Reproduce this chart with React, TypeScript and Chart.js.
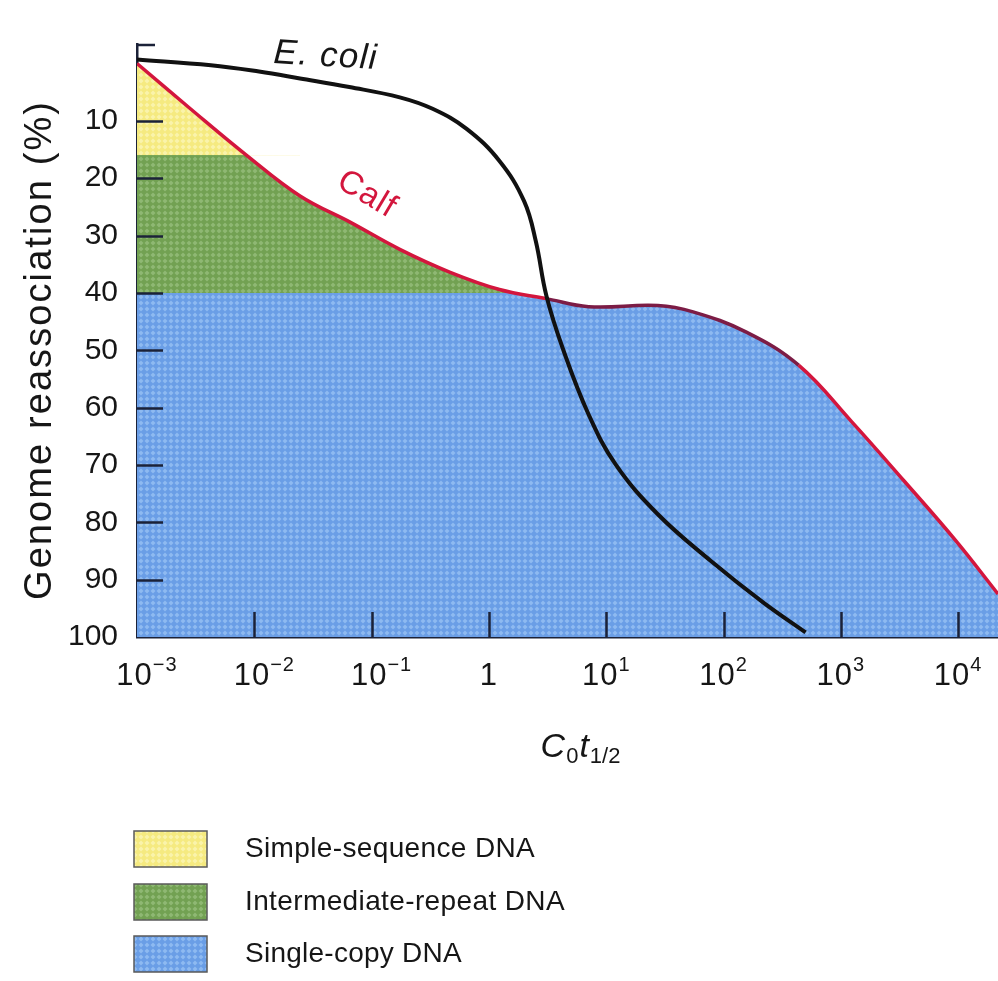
import React, { useEffect, useRef } from 'react';
import { Chart, registerables } from 'chart.js';

Chart.register(...registerables);

// ---------- data ----------
// x values are log10(C0t1/2), y values are genome reassociation (%)
const ecoliLogC0t = [-3, -2.37, -1.96, -1.61, -1.19, -0.76, -0.48, -0.19, 0.09, 0.3, 0.4, 0.49, 0.63, 0.85, 1.08, 1.44, 1.89, 2.34, 2.7];
const ecoliReassoc = [-0.7, 0.3, 1.4, 2.6, 4.1, 5.9, 7.9, 11.4, 17.0, 24.0, 31.0, 40.5, 49.7, 61.2, 69.9, 78.6, 86.7, 94.0, 99.2];

const calfLogC0t = [-3, -2.55, -2.06, -1.61, -1.18, -0.76, -0.33, 0.09, 0.49, 0.85, 1.44, 1.74, 2.19, 2.64, 3.09, 3.54, 3.98, 4.34];
const calfReassoc = [0, 7.8, 16.1, 23.1, 27.7, 32.4, 36.4, 39.4, 41.0, 42.4, 42.2, 43.3, 46.8, 52.6, 62.4, 72.8, 83.2, 92.5];

const simpleBoundary = 16;
const repeatBoundary = 40;
const simpleBoundaryEndLog = -2.07;
const repeatBoundaryEndLog = 0.24;

const yTickValues = [10, 20, 30, 40, 50, 60, 70, 80, 90, 100];
const xTickValues = [1e-3, 1e-2, 1e-1, 1, 1e1, 1e2, 1e3, 1e4];
const xTickBases = ['10', '10', '10', '1', '10', '10', '10', '10'];
const xTickExponents = ['\u22123', '\u22122', '\u22121', '', '1', '2', '3', '4'];

const yAxisTitle = 'Genome reassociation (%)';
const xTitleParts = ['C', '0', 't', '1/2'];
const ecoliLabel = 'E. coli';
const calfLabel = 'Calf';
const legendLabels = ['Simple-sequence DNA', 'Intermediate-repeat DNA', 'Single-copy DNA'];

// ---------- styles ----------
const FONT = "'Liberation Sans', Arial, Helvetica, sans-serif";
const AXIS_COLOR = '#1b2238';
const TEXT_COLOR = '#161616';
const RED = '#d3163d';
const MAROON = '#7c1c45';
const TENSION = 0.4;

function makePattern(base: string, light: string) {
  const c = document.createElement('canvas');
  c.width = 6;
  c.height = 6;
  const g = c.getContext('2d')!;
  g.fillStyle = base;
  g.fillRect(0, 0, 6, 6);
  g.fillStyle = light;
  g.beginPath();
  g.moveTo(3, 0.5);
  g.lineTo(5.5, 3);
  g.lineTo(3, 5.5);
  g.lineTo(0.5, 3);
  g.closePath();
  g.fill();
  return g.createPattern(c, 'repeat')!;
}

const toPoints = (logs: number[], vals: number[]) => logs.map((l, i) => ({ x: Math.pow(10, l), y: vals[i] }));

function setFit(ctx: any, text: string, font: string, width: number) {
  ctx.font = font;
  ctx.letterSpacing = '0px';
  const w = ctx.measureText(text).width;
  const sp = (width - w) / Math.max(1, text.length);
  ctx.letterSpacing = sp.toFixed(2) + 'px';
}

export default function App() {
  const ref = useRef<HTMLCanvasElement>(null);

  useEffect(() => {
    document.body.style.margin = '0';
    const canvas = ref.current!;
    const yellow = makePattern('#f5ea80', '#faf3ab');
    const green = makePattern('#72a152', '#8fb873');
    const blue = makePattern('#6a9ee6', '#8ebaf1');

    const calfPts = toPoints(calfLogC0t, calfReassoc);
    const ecoliPts = toPoints(ecoliLogC0t, ecoliReassoc);

    const decor = {
      id: 'decor',
      afterDraw(chart: any) {
        const { ctx, chartArea: a, scales } = chart;
        const x = scales.x;
        const y = scales.y;
        ctx.save();
        // inward tick marks
        ctx.strokeStyle = AXIS_COLOR;
        ctx.lineWidth = 2.5;
        ctx.beginPath();
        yTickValues.forEach((v) => {
          if (v >= 100) return;
          const py = Math.round(y.getPixelForValue(v)) + 0.5;
          ctx.moveTo(a.left, py);
          ctx.lineTo(a.left + 26, py);
        });
        ctx.moveTo(a.left, a.top + 1);
        ctx.lineTo(a.left + 18, a.top + 1);
        xTickValues.forEach((v, i) => {
          if (i === 0) return;
          const px = Math.round(x.getPixelForValue(v)) + 0.5;
          ctx.moveTo(px, a.bottom);
          ctx.lineTo(px, a.bottom - 25);
        });
        ctx.stroke();

        // x tick labels with superscripts
        ctx.fillStyle = TEXT_COLOR;
        ctx.textBaseline = 'alphabetic';
        ctx.textAlign = 'left';
        xTickValues.forEach((v, i) => {
          const px = x.getPixelForValue(v);
          const base = xTickBases[i];
          const exp = xTickExponents[i];
          ctx.letterSpacing = '1px';
          ctx.font = `31px ${FONT}`;
          const wb = ctx.measureText(base).width;
          ctx.font = `20px ${FONT}`;
          const we = exp ? ctx.measureText(exp).width : 0;
          let sx = px - (wb + we) / 2;
          if (exp.startsWith('\u2212')) sx += 10;
          ctx.font = `31px ${FONT}`;
          ctx.fillText(base, sx, 685);
          if (exp) {
            ctx.font = `20px ${FONT}`;
            ctx.fillText(exp, sx + wb, 671);
          }
        });
        ctx.letterSpacing = '0px';

        // x axis title C0t1/2
        const fonts = [`italic 34px ${FONT}`, `22px ${FONT}`, `italic 34px ${FONT}`, `22px ${FONT}`];
        const dys = [0, 6, 0, 6];
        const widths = xTitleParts.map((t, i) => {
          ctx.font = fonts[i];
          return ctx.measureText(t).width + 1;
        });
        const total = widths.reduce((s, w) => s + w, 0);
        let cx = 581 - total / 2;
        xTitleParts.forEach((t, i) => {
          ctx.font = fonts[i];
          ctx.fillText(t, cx, 757 + dys[i]);
          cx += widths[i];
        });

        // y axis title
        ctx.save();
        ctx.translate(41, 350);
        ctx.rotate(-Math.PI / 2);
        ctx.textAlign = 'center';
        ctx.textBaseline = 'middle';
        setFit(ctx, yAxisTitle, `38px ${FONT}`, 500);
        ctx.fillText(yAxisTitle, 0, 0);
        ctx.restore();

        // curve labels
        ctx.save();
        ctx.translate(325, 66);
        ctx.rotate(0.06);
        ctx.textAlign = 'center';
        setFit(ctx, ecoliLabel, `italic 35px ${FONT}`, 104);
        ctx.fillText(ecoliLabel, 0, 0);
        ctx.restore();

        ctx.save();
        ctx.translate(368, 193);
        ctx.rotate(0.54);
        ctx.textAlign = 'center';
        ctx.fillStyle = RED;
        setFit(ctx, calfLabel, `33px ${FONT}`, 63);
        ctx.fillText(calfLabel, 0, 11);
        ctx.restore();

        // legend
        const fills = [yellow, green, blue];
        const swY = [831, 884, 936];
        const textW = [290, 320, 217];
        legendLabels.forEach((lab, i) => {
          ctx.fillStyle = fills[i];
          ctx.fillRect(134, swY[i], 73, 36);
          ctx.strokeStyle = '#5a5a5a';
          ctx.lineWidth = 1.5;
          ctx.strokeRect(134, swY[i], 73, 36);
          ctx.fillStyle = TEXT_COLOR;
          ctx.textAlign = 'left';
          ctx.textBaseline = 'alphabetic';
          setFit(ctx, lab, `28px ${FONT}`, textW[i]);
          ctx.fillText(lab, 245, swY[i] + 26);
        });
        ctx.letterSpacing = '0px';
        ctx.restore();
      },
    };

    const chart = new Chart(canvas, {
      type: 'line',
      data: {
        datasets: [
          {
            label: 'E. coli',
            data: ecoliPts,
            borderColor: '#111111',
            borderWidth: 4,
            fill: false,
            tension: TENSION,
            pointRadius: 0,
          },
          {
            label: 'Calf',
            data: calfPts,
            borderColor: RED,
            borderWidth: 3.5,
            fill: false,
            tension: TENSION,
            pointRadius: 0,
            segment: {
              borderColor: (c: any) => {
                const lx = Math.log10(c.p0.parsed.x);
                return lx >= 0.45 && lx < 2.6 ? MAROON : RED;
              },
            },
          },
          {
            label: 'Simple-sequence DNA',
            data: calfPts.slice(0, 4),
            borderWidth: 0,
            pointRadius: 0,
            backgroundColor: yellow,
            tension: TENSION,
            fill: { target: { value: simpleBoundary }, above: yellow, below: 'rgba(0,0,0,0)' },
          },
          {
            label: 'Intermediate-repeat DNA',
            data: calfPts.slice(0, 10),
            borderWidth: 0,
            pointRadius: 0,
            backgroundColor: green,
            tension: TENSION,
            fill: { target: { value: repeatBoundary }, above: green, below: 'rgba(0,0,0,0)' },
          },
          {
            label: 'Single-copy DNA',
            data: calfPts,
            borderWidth: 0,
            pointRadius: 0,
            backgroundColor: blue,
            tension: TENSION,
            fill: { target: { value: 100 }, above: blue, below: blue },
          },
          {
            label: 'simple boundary',
            data: [
              { x: 1e-3, y: simpleBoundary },
              { x: Math.pow(10, simpleBoundaryEndLog), y: simpleBoundary },
            ],
            borderColor: '#22301e',
            borderWidth: 2,
            pointRadius: 0,
            fill: false,
          },
          {
            label: 'repeat boundary',
            data: [
              { x: 1e-3, y: repeatBoundary },
              { x: Math.pow(10, repeatBoundaryEndLog), y: repeatBoundary },
            ],
            borderColor: '#1d2a26',
            borderWidth: 2,
            pointRadius: 0,
            fill: false,
          },
        ],
      },
      options: {
        animation: false,
        responsive: false,
        maintainAspectRatio: false,
        layout: { padding: { top: 44, left: 0, right: 0, bottom: 0 } },
        plugins: {
          legend: { display: false },
          tooltip: { enabled: false },
        },
        elements: { point: { radius: 0 } },
        scales: {
          x: {
            type: 'logarithmic',
            min: 1e-3,
            max: Math.pow(10, 4.34),
            z: 1,
            grid: { display: false },
            border: { display: true, color: AXIS_COLOR, width: 2.5 },
            ticks: { display: false },
            afterBuildTicks: (s: any) => {
              s.ticks = xTickValues.map((v) => ({ value: v }));
            },
            afterFit: (s: any) => {
              s.height = 981 - 637;
            },
          },
          y: {
            type: 'linear',
            reverse: true,
            min: -3.4,
            max: 100,
            z: 1,
            grid: { display: false },
            border: { display: true, color: AXIS_COLOR, width: 2.5 },
            ticks: {
              color: TEXT_COLOR,
              padding: 11,
              font: { family: FONT, size: 30 },
              callback: (v: any) => String(v),
            },
            afterBuildTicks: (s: any) => {
              s.ticks = yTickValues.map((v) => ({ value: v }));
            },
            afterFit: (s: any) => {
              s.width = 137;
            },
          },
        },
      },
      plugins: [decor],
    } as any);

    return () => chart.destroy();
  }, []);

  return <canvas ref={ref} width={998} height={981} style={{ display: 'block' }} />;
}
